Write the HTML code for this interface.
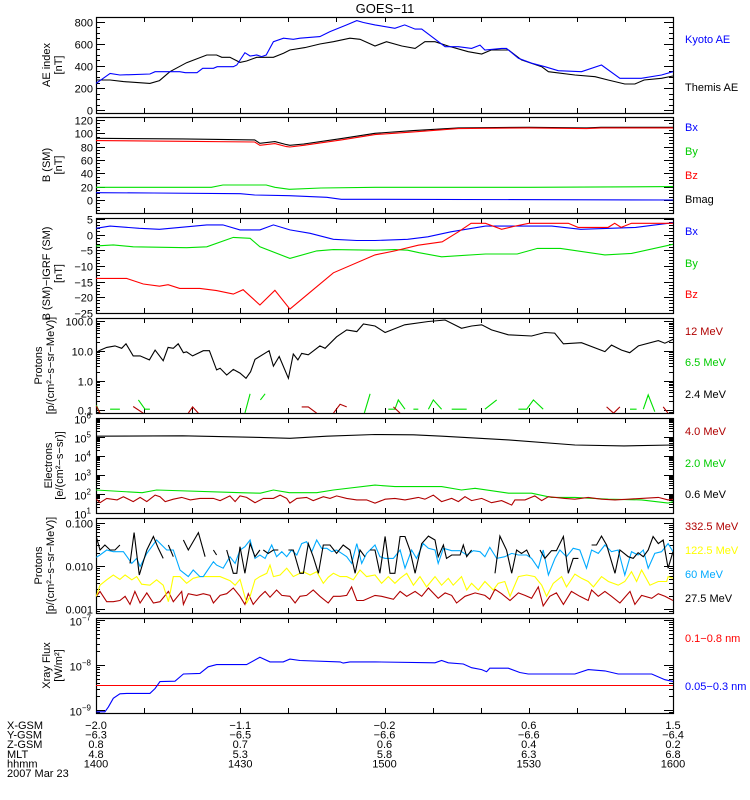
<!DOCTYPE html>
<html><head><meta charset="utf-8"><title>GOES-11</title>
<style>
html,body{margin:0;padding:0;background:#fff;}
svg{display:block;font-family:"Liberation Sans",sans-serif;}
</style></head>
<body>
<svg id="chart" width="750" height="800" viewBox="0 0 750 800" xmlns="http://www.w3.org/2000/svg">
<text x="385" y="13" font-size="13" text-anchor="middle">GOES−11</text>
<g id="panels"></g>
<g id="footer" font-size="11"></g>
</svg>
<script>
// ---- Time axis: units of 0.6 min since 14:00 (0..200 = 1400..1600)
const timeTicks = ["1400","1430","1500","1530","1600"];
const xgsm = ["−2.0","−1.1","−0.2","0.6","1.5"];
const ygsm = ["−6.3","−6.5","−6.6","−6.6","−6.4"];
const zgsm = ["0.8","0.7","0.6","0.4","0.2"];
const mlt  = ["4.8","5.3","5.8","6.3","6.8"];

// ---- Panel 1: AE index
const kyotoT = [0,4.9,8.3,18.7,20.5,29,31,35,37,40.7,42,47.6,48.8,51.6,53.4,55.7,57.4,59,61.5,65,68.4,70.7,77.6,81.1,86.9,90.4,92.7,96.7,103.6,107,110.6,112.9,121,125.6,130.2,133.1,134.8,140.6,142.3,146.4,151,155.6,160.2,168.3,175.2,181.6,189,196,200];
const kyotoAE = [242,333,318,327,348,348,339,339,379,379,394,394,409,521,491,500,485,500,621,652,642,652,667,712,773,812,795,773,742,773,735,735,575,575,560,590,545,560,560,470,425,394,357,348,409,288,288,318,348];
const themisT = [0,4.9,9.5,18.7,22,25.6,31.4,38.4,41.8,43.6,46.4,49.9,52.2,55.7,61.5,65,67.2,72.4,77.6,82.3,88,91.5,96.7,100.7,106,110.6,114,117.5,122,129,133.7,137,143,147.5,154.5,156.8,166,173,177.5,183.3,186.8,190,196,200];
const themisAE = [273,273,258,242,267,348,430,500,500,479,479,433,445,479,479,515,545,567,600,621,652,642,582,621,582,560,621,621,582,530,509,545,545,455,394,348,318,303,273,236,236,273,288,309];

// ---- Panel 2: B (SM)
const bT = [0,30,55,56.8,62,66,67.2,72,85,96.7,110,125.6,150,170,175,200];
const bmag = [92.5,91.5,90,85,87.5,83,82,84,92,100,104,108,109,108,109,109];
const bzSM = [89,88,87,82,84.5,80,79.5,82,90,98,102,107,108,107,108,108];
const byT = [0,40,44,59,62,67,78,96.7,150,200];
const bySM = [19,19,22.5,22.5,19,16,18,19,19,20];
const bxT = [0,20,50,55,67,80,85,96.7,200];
const bxSM = [11,10.5,9.5,7.5,6.5,4,1,1,0];

// ---- Panel 3: B - IGRF
const dbxT = [0,4.9,15,22,38.4,44,49.9,56.8,61.5,67.2,74.2,82.3,90.4,96.7,108,115,123,135,158,168,187,200];
const dbx = [2.0,2.7,2.0,1.7,3.1,3.1,1.5,1.5,3.1,1.5,0.4,-1.5,-1.9,-1.9,-1.5,-0.7,0.9,2.7,2.7,1.7,2.3,3.8];
const dbyT = [0,6,12.9,31.4,38.4,47.6,53.4,56.8,67.2,76.5,82.3,96.7,103.6,108,112,119.8,135,146,153,161,176.4,185.6,200];
const dby = [-3.6,-3.3,-3.9,-4.2,-3.9,-0.9,-1.2,-3.9,-7.6,-5.2,-4.8,-5.0,-4.8,-5.0,-5.8,-7.1,-6.2,-6.2,-4.4,-4.4,-6.5,-6.0,-3.1];
const dbzT = [0,10.6,16.4,22,25,29,36,41.8,47.6,51,56.8,62,67.2,75,82.3,96.7,103.6,111.7,120,125.6,130,135,140.6,145.2,150,163.7,167.1,177.5,179.8,182,185.6,200];
const dbz = [-14,-14,-15.8,-16.5,-16,-17.2,-17.2,-17.9,-19,-17.6,-22.5,-17.8,-23.8,-17.8,-12.2,-6.5,-5.2,-3.4,-2.3,0.9,3.6,3.6,1.7,2.7,3.6,3.6,2.3,2.3,3.6,2.3,3.6,3.6];

// ---- Panel 4: protons (low energy)
const p24T = [0.8,3.7,6.6,8.9,10.4,12.9,15.3,18.5,20.5,23.3,25,26.8,28.5,30.3,31.4,33.5,37.2,39.3,41.8,43,45.3,47.6,49.9,52,53.6,55.1,60,61.5,63.5,66.7,68.4,70,71.3,73.6,77.6,79.4,83.4,86.9,90.4,92.7,96.7,100.2,107,115.2,121,126.7,130.2,133.7,137.1,142.9,151,155.6,159,162,168.3,176.4,178.7,182.2,185,188,194.9,197.2,200];
const p24 = [10,13.2,14.8,12.3,17.4,6.8,6.8,5.0,10.7,4.7,13.2,12.3,17.4,8.7,9.3,6.8,10.2,10.2,2.3,2.6,1.55,2.4,1.8,1.2,2.0,5.2,10.2,3.1,6.5,1.2,7.9,5.0,8.3,7.4,14.8,12.3,30,51,45,81,69,42,76,98,110,58,69,76,51,35,32,42,40,17.4,19,9.5,15.8,10.7,8.7,14.8,22.4,18.2,24.5];
const p65T = [0.1,1.4,null,4.9,8.3,null,14.7,17.0,18.7,null,51.6,53.4,null,57,58.6,null,93,95,null,101.3,103.6,104.8,107.1,null,110,111.7,null,115.2,116.9,119.8,null,123.3,128.5,null,134.8,138.9,null,146.4,149.3,151.6,155,null,185.1,187.4,null,189.7,191.4,193.7];
const p65 = [0.15,0.08,null,0.109,0.109,null,0.224,0.109,0.109,null,0.08,0.36,null,0.224,0.36,null,0.08,0.36,null,0.109,0.109,0.224,0.109,null,0.109,0.109,null,0.109,0.224,0.109,null,0.109,0.109,null,0.109,0.224,null,0.109,0.109,0.224,0.109,null,0.109,0.109,null,0.109,0.33,0.09];
const p12T = [0.1,1.4,null,12.9,16.4,null,32.0,33.5,35.5,null,71.3,73.6,76.5,null,82.3,84.6,86.9,null,103.1,105.4,null,177,179.4,181.6,null,196.6,198.3];
const p12 = [0.14,0.08,null,0.135,0.08,null,0.08,0.13,0.08,null,0.13,0.13,0.08,null,0.08,0.16,0.13,null,0.13,0.08,null,0.13,0.08,0.13,null,0.13,0.08];

// ---- Panel 5: electrons
const e06T = [0,30,56.8,67.2,80,96.7,110,120,143,166,183,200];
const e06 = [1.1e5,1.15e5,0.95e5,0.85e5,1.1e5,1.35e5,1.3e5,1.1e5,7e4,3.8e4,3.4e4,3.8e4];
const e20T = [0,16,21,50,57,61.5,67,76.5,82.3,96.7,103.6,119.8,126.7,131.4,143,151,157.9,166,177.6,189.1,198.3,200];
const e20 = [162,117,162,117,110,162,117,117,162,295,245,245,162,200,110,110,66,66,53,49,33,40];
const e40T = [0.1,1.4,3.7,7.3,9.5,12.9,15.3,17.6,20.5,22.2,24,26.8,29.7,32.7,36,40.7,43,46.4,48.2,49.9,52.2,55.1,58,61.5,63.8,66.1,67.2,69.6,73,75.3,78.8,81.1,83.4,86.9,90.4,93.8,96.7,100.2,103.6,107.1,111.7,114,116.9,119.8,123.3,125.6,127.9,130.2,133.7,137.1,140.6,144.1,145.2,148.7,152.1,154.5,156.8,162.5,166,170.6,175.2,179.9,184.5,194.9,198.3,200];
const e40 = [53,35,59,49,72,40,66,40,88,72,40,53,66,49,59,59,45,79,40,79,66,35,59,59,88,59,33,59,66,45,72,59,79,59,49,49,33,53,59,49,66,53,88,40,59,40,72,45,59,35,45,26,49,49,79,45,72,59,53,66,53,49,53,66,49,53];

// ---- Panel 6: protons (high energy)
const h60T = [0.1,1.4,3.7,6.0,9.5,12.4,14.1,15.3,17.6,21.0,24.5,26.8,29.1,32.0,33.7,36.0,37.2,38.9,40.7,41.8,44.1,46.4,48.2,49.9,51.6,53.4,55.1,56.8,58.6,60.9,62.6,64.4,66.1,67.8,69.6,71.3,73.0,74.8,76.5,78.2,80.0,81.7,83.4,85.2,86.9,88.6,90.4,92.1,93.8,96.7,98.4,100.2,103.1,105.4,107.1,109.4,111.1,113.4,115.2,117.5,118.6,120.4,123.3,126.2,128.5,130.8,133.1,134.8,136.5,138.9,141.7,144.1,146.4,149.3,151.0,153.3,155.0,156.8,159.1,160.8,163.1,165.4,167.7,170.0,171.8,174.1,176.4,178.7,181.0,183.3,185.6,187.9,189.7,191.4,193.7,196.0,198.3,200];
const h60 = [0.0159,0.018,0.0234,0.0214,0.0214,0.0115,0.015,0.0097,0.0196,0.040,0.0234,0.0234,0.0081,0.0057,0.0081,0.0057,0.0057,0.0084,0.0126,0.0105,0.0089,0.0164,0.0115,0.0234,0.028,0.040,0.015,0.018,0.015,0.0305,0.0164,0.0214,0.0164,0.0234,0.018,0.033,0.0365,0.0214,0.040,0.0256,0.0256,0.0214,0.0234,0.0196,0.0164,0.0115,0.033,0.0115,0.0196,0.0305,0.0164,0.015,0.015,0.0234,0.0089,0.0234,0.015,0.033,0.0256,0.0234,0.0115,0.0256,0.0226,0.0226,0.018,0.0226,0.0214,0.0164,0.027,0.015,0.0164,0.0196,0.018,0.018,0.015,0.0089,0.0234,0.0062,0.015,0.0234,0.0164,0.0256,0.0234,0.0089,0.0234,0.0196,0.0305,0.0214,0.0234,0.0062,0.0214,0.018,0.0234,0.0089,0.0196,0.0214,0.033,0.0214];
const h122T = [0.1,1.4,3.7,6.0,8.3,10.1,12.4,14.1,15.8,18.7,21.0,23.3,25.1,26.8,29.1,31.4,33.7,36.0,39.5,43.0,46.4,48.2,49.9,52.2,53.4,55.1,56.8,59.2,60.3,61.5,63.8,66.1,68.4,70.7,71.9,74.2,76.5,78.8,80.5,82.3,84.6,86.9,89.2,91.5,93.8,96.7,99.0,101.3,103.6,105.4,107.7,110.0,112.3,114.6,117.5,119.8,122.1,123.8,126.7,128.5,130.2,132.5,134.8,137.7,139.4,141.7,143.5,146.4,149.3,152.1,154.5,156.2,158.5,161.4,163.1,166.0,168.3,170.6,172.4,175.2,177.6,181.0,183.3,185.6,187.4,189.1,192.0,194.9,197.8,198.3,200];
const h122 = [0.0020,0.0036,0.0048,0.0062,0.0049,0.0062,0.0048,0.0057,0.0038,0.0036,0.0048,0.0036,0.0015,0.0057,0.0057,0.0040,0.0052,0.0057,0.0057,0.0057,0.0046,0.0036,0.0049,0.0014,0.0020,0.0048,0.0057,0.0068,0.0105,0.0057,0.0062,0.0089,0.0057,0.0068,0.0074,0.0062,0.0074,0.0040,0.0055,0.0068,0.0057,0.0057,0.0048,0.0081,0.0057,0.0062,0.0040,0.0057,0.0040,0.0052,0.0068,0.0036,0.0057,0.0033,0.0057,0.0036,0.0052,0.0036,0.0057,0.0028,0.0040,0.0028,0.0044,0.0028,0.0040,0.0044,0.0020,0.0057,0.0062,0.0057,0.0036,0.0020,0.0040,0.0057,0.0033,0.0065,0.0052,0.0044,0.0033,0.0057,0.0044,0.0036,0.0044,0.0074,0.0044,0.0081,0.0036,0.0044,0.0044,0.0057,0.0052];
const h332T = [0.1,1.4,3.7,6.0,8.3,10.1,11.8,13.5,15.3,17.6,19.9,22.2,25.1,26.8,29.7,30.3,32.0,34.9,37.2,39.5,40.7,43.0,45.3,47.6,49.9,51.6,52.8,54.5,56.8,58.6,60.3,62.6,64.4,67.2,69.0,70.7,73.0,75.3,77.6,80.5,82.3,84.6,86.9,88.6,90.4,92.7,96.7,99.0,103.1,105.4,107.7,110.6,112.9,115.2,118.6,121.0,123.3,125.0,127.9,131.4,134.8,136.5,138.3,140.6,143.5,146.4,148.7,151.0,153.3,155.0,157.3,159.6,162.0,164.8,167.7,170.6,171.8,174.1,176.4,178.7,181.6,185.1,186.8,189.1,192.6,194.9,197.2,200];
const h332 = [0.0020,0.0026,0.0015,0.0015,0.0016,0.0020,0.0013,0.0026,0.0014,0.0024,0.0014,0.0015,0.0026,0.0015,0.0026,0.0013,0.0023,0.0021,0.0023,0.0021,0.0014,0.0021,0.0023,0.0031,0.0020,0.0013,0.0023,0.0013,0.0020,0.0026,0.0019,0.0028,0.0021,0.0020,0.0014,0.0020,0.0021,0.0028,0.0020,0.0014,0.0020,0.0020,0.0021,0.0033,0.0016,0.0016,0.0021,0.0020,0.0017,0.0026,0.0020,0.0026,0.0020,0.0031,0.0018,0.0024,0.0021,0.0014,0.0020,0.0024,0.0021,0.0017,0.0029,0.0023,0.0016,0.0024,0.0021,0.0018,0.0033,0.0012,0.0020,0.0024,0.0013,0.0026,0.0020,0.0016,0.0028,0.0020,0.0026,0.0020,0.0014,0.0026,0.0013,0.0021,0.0018,0.0023,0.0020,0.0016];
const h27T = [0.1,1.4,3.1,4.9,6.6,8.3,null,11.8,13.2,15.0,17.6,19.9,21.6,23.3,null,25.1,26.8,null,30.3,32.0,35.5,37.8,null,40.7,41.8,null,45.3,47.6,48.8,49.9,51.6,53.4,55.1,56.8,null,58.0,59.7,61.5,63.2,null,66.7,68.4,70.7,71.9,73.6,75.3,77.1,78.8,81.1,83.4,85.7,88.0,89.8,91.5,93.2,null,95.0,96.7,98.4,100.2,101.9,103.6,105.4,107.1,108.8,110.6,112.9,115.2,117.5,118.6,120.4,121.5,123.3,126.2,127.3,128.5,130.2,null,138.3,140.0,142.3,144.1,145.8,147.5,149.3,150.4,null,153.9,155.6,157.9,159.6,162.0,163.7,165.4,167.2,null,171.8,173.5,175.2,177.0,179.9,181.6,184.5,186.2,187.9,189.7,191.4,193.1,194.9,196.6,198.3,200];
const h27 = [0.048,0.0234,0.0305,0.0234,0.0234,0.0305,null,0.0115,0.059,0.0062,0.0234,0.048,0.0256,0.015,null,0.0305,0.0164,null,0.040,0.0234,0.059,0.0164,null,0.0234,0.018,null,0.0234,0.0068,0.0068,0.028,0.0068,0.033,0.0164,0.0234,null,0.0234,0.0196,0.0234,0.0234,null,0.0234,0.0234,0.0068,0.0068,0.033,0.0164,0.0068,0.0305,0.0305,0.0196,0.0305,0.0234,0.0068,0.0234,0.0164,null,0.0234,0.0234,0.0068,0.048,0.0068,0.0068,0.048,0.048,0.0234,0.0068,0.033,0.049,0.040,0.0164,0.0305,0.015,0.018,0.018,0.0305,0.0164,0.0234,null,0.0068,0.049,0.0234,0.0068,0.0234,0.0196,0.0234,0.0164,null,0.0234,0.015,0.0226,0.0226,0.048,0.0068,0.015,0.015,null,0.0305,0.0305,0.049,0.0305,0.0068,0.0234,0.0164,0.015,0.0203,0.0164,0.0234,0.048,0.033,0.040,0.0089,0.0214];

// ---- Panel 7: X-ray flux
const xlongT = [0.1,3.1,4.3,6.0,8.3,10.6,18.7,20.5,22.2,27.4,30.3,36,38.9,41.8,52.2,56.8,60.3,64.9,67.2,70.7,84.6,85.7,88,96.7,117.5,119.8,122.1,127.3,130.2,133.7,135.4,136.5,139.4,142.9,146.9,149.8,166,170.6,176.4,181,192.6,197.2,200];
const xlong = [0.91e-9,0.91e-9,1.17e-9,1.82e-9,2.29e-9,2.34e-9,2.34e-9,3.0e-9,4.27e-9,4.37e-9,6.3e-9,6.5e-9,9.1e-9,10.2e-9,10.2e-9,14.8e-9,11.7e-9,11.7e-9,13.5e-9,12.6e-9,11.7e-9,11.0e-9,11.7e-9,11.7e-9,11.2e-9,12.6e-9,11.2e-9,10.5e-9,8.7e-9,7.9e-9,7.1e-9,8.5e-9,8.5e-9,8.5e-9,6.8e-9,6.3e-9,6.3e-9,7.9e-9,7.4e-9,6.3e-9,6.3e-9,4.7e-9,4.3e-9];
const xshortT = [0,200];
const xshort = [3.5e-9,3.5e-9];

// ---- geometry
const X0 = 96, X1 = 673, TMAX = 200;
function X(t){ return X0 + t*(X1-X0)/TMAX; }
const panels = [
 {top:17, bot:113, log:false, dmin:-27, dmax:845},
 {top:117,bot:213, log:false, dmin:-19.5, dmax:124.4},
 {top:218,bot:313, log:false, dmin:-25.05, dmax:5.3},
 {top:318,bot:413, log:true, dmin:-1.09, dmax:2.11},
 {top:418,bot:513, log:true, dmin:1, dmax:6},
 {top:518,bot:613, log:true, dmin:-3.085, dmax:-0.891},
 {top:618,bot:713, log:true, dmin:-9.067, dmax:-6.956}
];
function Y(p,v){
  const P = panels[p];
  const a = P.log ? Math.log10(v) : v;
  return P.top + (P.dmax - a)/(P.dmax - P.dmin)*(P.bot - P.top);
}
const NS = "http://www.w3.org/2000/svg";
const root = document.getElementById('panels');
function mk(tag, attrs, parent){
  const e = document.createElementNS(NS, tag);
  for (const k in attrs) e.setAttribute(k, attrs[k]);
  (parent||root).appendChild(e);
  return e;
}
// clip paths
const defs = mk('defs', {});
panels.forEach((P,i)=>{
  const cp = mk('clipPath', {id:'clip'+i}, defs);
  mk('rect', {x:X0, y:P.top, width:X1-X0, height:P.bot-P.top}, cp);
});
function series(p, T, V, color, name){
  let d = "", pen = false;
  for (let i=0;i<T.length;i++){
    if (T[i]===null || V[i]===null){ pen=false; continue; }
    d += (pen?"L":"M") + X(T[i]).toFixed(1) + "," + Y(p,V[i]).toFixed(1);
    pen = true;
  }
  const el = mk('path', {d:d, fill:'none', stroke:color, 'stroke-width':1.1, 'clip-path':'url(#clip'+p+')'});
  
  
}
function txt(x,y,s,opt,parent){
  const e = mk('text', Object.assign({x:x,y:y,'font-size':11}, opt||{}), parent);
  e.textContent = s;
  return e;
}
// frames & ticks
panels.forEach((P,i)=>{
  const g = mk('g', {});
  
  
  const fr = mk('rect', {x:X0+0.5, y:P.top+0.5, width:X1-X0, height:P.bot-P.top, fill:'none', stroke:'#000', 'stroke-width':1.2}, g);
  
  
  // x ticks every 10 min (16.667 units)
  let d = "";
  for (let k=1;k<12;k++){
    const x = Math.round(X(k*TMAX/12))+0.5;
    d += `M${x},${P.bot}v-5M${x},${P.top}v5`;
  }
  // y ticks
  const yt = [];
  if (!P.log){
    const maj = [200,20,5][i], mnr = [50,5,1][i];
    for (let v=Math.ceil(P.dmin/mnr)*mnr; v<=P.dmax; v+=mnr){
      const y = Math.round(Y(i,v))+0.5;
      const L = (Math.abs(v % maj) < 1e-6) ? 9 : 4;
      d += `M${X0},${y}h${L}M${X1},${y}h${-L}`;
      if (L===9) yt.push([y, String(v).replace('-','−')]);
    }
  } else {
    for (let e=Math.floor(P.dmin); e<=Math.ceil(P.dmax); e++){
      for (let m=1;m<10;m++){
        const lv = e + Math.log10(m);
        if (lv < P.dmin-1e-6 || lv > P.dmax+1e-6) continue;
        const y = Math.round(Y(i, Math.pow(10,lv)))+0.5;
        const L = m===1 ? 9 : 4;
        d += `M${X0},${y}h${L}M${X1},${y}h${-L}`;
        if (m===1) yt.push([y, e]);
      }
    }
  }
  const tk = mk('path', {d:d, stroke:'#000', 'stroke-width':1, fill:'none'}, g);
  
  
  // tick labels
  yt.forEach(([y,lab])=>{
    let t;
    if (i===3){ t = txt(93, y+4, ({'-1':'0.1','0':'1.0','1':'10.0','2':'100.0'})[lab], {'text-anchor':'end'}, g); }
    else if (i===5){ t = txt(93, y+4, ({'-3':'0.001','-2':'0.010','-1':'0.100'})[lab], {'text-anchor':'end'}, g); }
    else if (i===4 || i===6){
      t = txt(91, y+5, '10', {'text-anchor':'end'}, g);
      const s = mk('tspan', {dy:-5, 'font-size':8}, t);
      s.textContent = String(lab).replace('-','−');
    }
    else { t = txt(93, y+4, lab, {'text-anchor':'end'}, g); }
    
    
  });
});
// y-axis titles
const titles = [
 ["AE index","[nT]",50,62],
 ["B (SM)","[nT]",50,62],
 ["B (SM)−IGRF (SM)","[nT]",50,62],
 ["Protons","[p/(cm²−s−sr−MeV)]",42,54],
 ["Electrons","[e/(cm²−s−sr)]",52,63],
 ["Protons","[p/(cm²−s−sr−MeV)]",42,54],
 ["Xray Flux","[W/m²]",50,62]
];
titles.forEach((tt,i)=>{
  const P = panels[i], cy = (P.top+P.bot)/2 + (i===2?8:0);
  const a = txt(0,0,tt[0],{'text-anchor':'middle', transform:`translate(${tt[2]},${cy}) rotate(-90)`});
  
  
  const b = txt(0,0,tt[1],{'text-anchor':'middle', transform:`translate(${tt[3]},${cy}) rotate(-90)`});
  
  
});
// series
series(0, themisT, themisAE, '#000', 'themis-ae-line');
series(0, kyotoT, kyotoAE, '#0000ff', 'kyoto-ae-line');
series(1, bxT, bxSM, '#0000ff', 'bx-line');
series(1, byT, bySM, '#00e000', 'by-line');
series(1, bT, bmag, '#000', 'bmag-line');
series(1, bT, bzSM, '#ff0000', 'bz-line');
series(2, dbxT, dbx, '#0000ff', 'dbx-line');
series(2, dbyT, dby, '#00e000', 'dby-line');
series(2, dbzT, dbz, '#ff0000', 'dbz-line');
series(3, p24T, p24, '#000', 'proton-2-4mev-line');
series(3, p65T, p65, '#00e000', 'proton-6-5mev-line');
series(3, p12T, p12, '#b00000', 'proton-12mev-line');
series(4, e06T, e06, '#000', 'electron-0-6mev-line');
series(4, e20T, e20, '#00e000', 'electron-2-0mev-line');
series(4, e40T, e40, '#b00000', 'electron-4-0mev-line');
series(5, h332T, h332, '#b00000', 'proton-332mev-line');
series(5, h122T, h122, '#ffff00', 'proton-122mev-line');
series(5, h60T, h60, '#00aaff', 'proton-60mev-line');
series(5, h27T, h27, '#000', 'proton-27mev-line');
series(6, xshortT, xshort, '#ff0000', 'xray-long-line');
series(6, xlongT, xlong, '#0000ff', 'xray-short-line');
// right legends
const legends = [
 ["Kyoto AE",'#0000ff',43],["Themis AE",'#000',91],
 ["Bx",'#0000ff',131],["By",'#00cc00',155],["Bz",'#ff0000',179],["Bmag",'#000',203],
 ["Bx",'#0000ff',235],["By",'#00cc00',267],["Bz",'#ff0000',298],
 ["12 MeV",'#b00000',335],["6.5 MeV",'#00cc00',366],["2.4 MeV",'#000',398],
 ["4.0 MeV",'#b00000',435],["2.0 MeV",'#00cc00',467],["0.6 MeV",'#000',498],
 ["332.5 MeV",'#b00000',530],["122.5 MeV",'#ffff00',554],["60 MeV",'#00aaff',578],["27.5 MeV",'#000',602],
 ["0.1−0.8 nm",'#ff0000',642],["0.05−0.3 nm",'#0000ff',690]
];
legends.forEach(l=>{
  const t = txt(685, l[2], l[0], {fill:l[1]});
  
  
});
// footer
const foot = document.getElementById('footer');
const rowsLab = ["X-GSM","Y-GSM","Z-GSM","MLT","hhmm"];
const rowsVal = [xgsm, ygsm, zgsm, mlt, timeTicks];
rowsLab.forEach((r,j)=>{
  const y = 729 + j*9.6;
  const t = txt(7, y, r, {}, foot);
  
  
  rowsVal[j].forEach((v,k)=>{
    const c = txt(X(k*50), y, v, {'text-anchor':'middle'}, foot);
    
    
  });
});
const dt = txt(7, 777, "2007 Mar 23", {}, foot);


</script>
</body></html>
